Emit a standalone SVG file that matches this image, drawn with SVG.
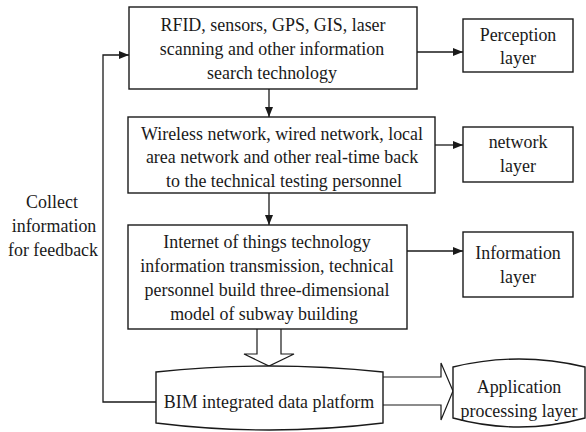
<svg xmlns="http://www.w3.org/2000/svg" width="586" height="432" viewBox="0 0 586 432">
  <defs>
    <marker id="arr" viewBox="0 0 10 8" refX="10" refY="4" markerWidth="10" markerHeight="8" markerUnits="userSpaceOnUse" orient="auto">
      <path d="M0,0 L10,4 L0,8 Z" fill="#1a1a1a"/>
    </marker>
  </defs>
  <style>
    .box { fill: #ffffff; stroke: #1a1a1a; stroke-width: 1.4; }
    .line { fill: none; stroke: #1a1a1a; stroke-width: 1.3; }
    .hollow { fill: #ffffff; stroke: #1a1a1a; stroke-width: 1.2; stroke-linejoin: miter; }
    /* slightly narrow serif lettering: each label is placed by translate and squeezed horizontally */
    text { font-family: "Liberation Serif", "Times New Roman", serif; font-size: 19.5px; fill: #1a1a1a; text-anchor: middle; }
  </style>
  <rect width="586" height="432" fill="#ffffff"/>

  <!-- connectors -->
  <g id="connectors">
    <line class="line" x1="269" y1="89" x2="269" y2="117" marker-end="url(#arr)"/>
    <line class="line" x1="269" y1="193" x2="269" y2="225" marker-end="url(#arr)"/>
    <line class="line" x1="417" y1="52" x2="463" y2="52" marker-end="url(#arr)"/>
    <line class="line" x1="435" y1="145" x2="463" y2="145" marker-end="url(#arr)"/>
    <line class="line" x1="407" y1="251" x2="463" y2="251" marker-end="url(#arr)"/>
    <polyline class="line" points="156,402 103,402 103,55 129,55" marker-end="url(#arr)"/>
    <!-- hollow block arrows -->
    <path class="hollow" d="M257,329 L257,354 L244,354 L269,366 L294,354 L281,354 L281,329"/>
    <path class="hollow" d="M383,377 L441,377 L441,363 L453,391 L441,420 L441,405 L383,405"/>
  </g>

  <g id="feedback-label">
    <text transform="translate(52,208) scale(0.92,1)">Collect</text>
    <text transform="translate(54,232) scale(0.92,1)">information</text>
    <text transform="translate(53,256) scale(0.92,1)">for feedback</text>
  </g>

  <g id="node-sensing">
    <rect class="box" x="129" y="7" width="288" height="82"/>
    <text transform="translate(273,31) scale(0.92,1)">RFID, sensors, GPS, GIS, laser</text>
    <text transform="translate(272,55) scale(0.92,1)">scanning and other information</text>
    <text transform="translate(272,79) scale(0.92,1)">search technology</text>
  </g>

  <g id="node-network">
    <rect class="box" x="128" y="117" width="307" height="76"/>
    <text transform="translate(282,140) scale(0.92,1)">Wireless network, wired network, local</text>
    <text transform="translate(282,163) scale(0.92,1)">area network and other real-time back</text>
    <text transform="translate(284,187) scale(0.92,1)">to the technical testing personnel</text>
  </g>

  <g id="node-iot">
    <rect class="box" x="128" y="225" width="279" height="104"/>
    <text transform="translate(267,248) scale(0.92,1)">Internet of things technology</text>
    <text transform="translate(267,272) scale(0.92,1)">information transmission, technical</text>
    <text transform="translate(267,296) scale(0.92,1)">personnel build three-dimensional</text>
    <text transform="translate(264,320) scale(0.92,1)">model of subway building</text>
  </g>

  <g id="node-perception">
    <rect class="box" x="463" y="19" width="110" height="53"/>
    <text transform="translate(518,41) scale(0.92,1)">Perception</text>
    <text transform="translate(518,64) scale(0.92,1)">layer</text>
  </g>

  <g id="node-network-layer">
    <rect class="box" x="463" y="127" width="110" height="55"/>
    <text transform="translate(518,148) scale(0.92,1)">network</text>
    <text transform="translate(518,172) scale(0.92,1)">layer</text>
  </g>

  <g id="node-information">
    <rect class="box" x="463" y="232" width="110" height="65"/>
    <text transform="translate(518,259) scale(0.92,1)">Information</text>
    <text transform="translate(518,283) scale(0.92,1)">layer</text>
  </g>

  <g id="node-bim">
    <path class="box" d="M156,372 Q269,360 383,372 L383,423 Q269,437 156,423 Z"/>
    <text transform="translate(269,408) scale(0.92,1)">BIM integrated data platform</text>
  </g>

  <g id="node-application">
    <path class="box" d="M453,367 Q519,351 585,367 L585,418 Q519,436 453,418 Z"/>
    <text transform="translate(519,393) scale(0.92,1)">Application</text>
    <text transform="translate(519,417) scale(0.92,1)">processing layer</text>
  </g>
</svg>
